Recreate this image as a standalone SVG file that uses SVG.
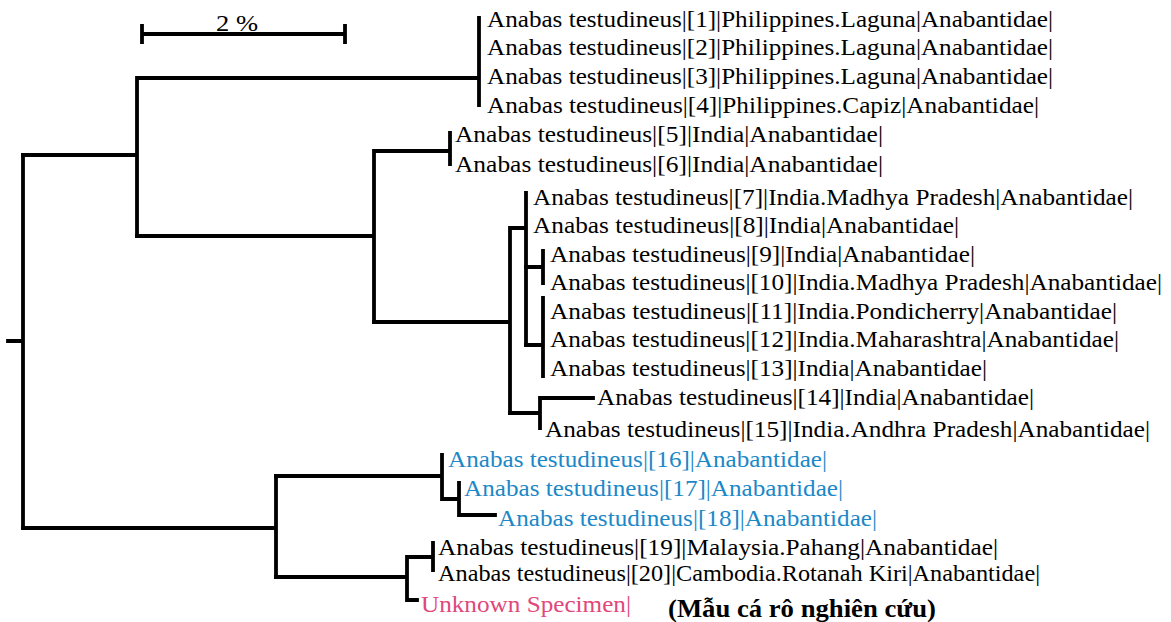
<svg xmlns="http://www.w3.org/2000/svg" width="1171" height="622" viewBox="0 0 1171 622">
<style>
.br{fill:none;stroke:#000;stroke-width:3.8;stroke-linecap:square}
.lb{font-family:"Liberation Serif","Times New Roman",serif;font-size:23.5px;fill:#000}
.bl{fill:#1c88c7}
.pk{fill:#e0477b}
.cap{font-family:"Liberation Serif","Times New Roman",serif;font-size:25px;font-weight:bold;fill:#000}
</style>
<rect width="1171" height="622" fill="#fff"/>
<g id="scale">
<path class="br" d="M142,34 H345 M142,26 V42 M345,26 V42"/>
<text class="lb" x="216" y="31" textLength="42" lengthAdjust="spacingAndGlyphs">2 %</text>
</g>
<g id="connectors">
<path class="br" d="M8,341 H23 M23,155 V528"/>
<path class="br" d="M23,155 H137 M137,78 V236 M137,78 H479 M479,18 V105"/>
<path class="br" d="M137,236 H374 M374,151 V322 M374,151 H450 M450,133 V164"/>
<path class="br" d="M374,322 H510 M510,228 V413 M510,228 H526 M526,193 V345"/>
<path class="br" d="M526,267 H543 M543,251 V283"/>
<path class="br" d="M526,345 H543 M543,298 V376"/>
<path class="br" d="M510,413 H540 M540,398 V428 M540,398 H593"/>
<path class="br" d="M23,528 H276 M276,476 V577"/>
<path class="br" d="M276,476 H442 M442,455 V499 M442,499 H459 M459,483 V515 M459,515 H495"/>
<path class="br" d="M276,577 H407 M407,557 V600 M407,557 H433 M433,543 V570 M407,600 H417"/>
</g>
<g id="n1"><text class="lb" x="487" y="27" textLength="566" lengthAdjust="spacingAndGlyphs">Anabas testudineus|[1]|Philippines.Laguna|Anabantidae|</text></g>
<g id="n2"><text class="lb" x="487" y="55" textLength="566" lengthAdjust="spacingAndGlyphs">Anabas testudineus|[2]|Philippines.Laguna|Anabantidae|</text></g>
<g id="n3"><text class="lb" x="487" y="84" textLength="566" lengthAdjust="spacingAndGlyphs">Anabas testudineus|[3]|Philippines.Laguna|Anabantidae|</text></g>
<g id="n4"><text class="lb" x="487" y="113" textLength="552" lengthAdjust="spacingAndGlyphs">Anabas testudineus|[4]|Philippines.Capiz|Anabantidae|</text></g>
<g id="n5"><text class="lb" x="455" y="142" textLength="428" lengthAdjust="spacingAndGlyphs">Anabas testudineus|[5]|India|Anabantidae|</text></g>
<g id="n6"><text class="lb" x="455" y="172" textLength="428" lengthAdjust="spacingAndGlyphs">Anabas testudineus|[6]|India|Anabantidae|</text></g>
<g id="n7"><text class="lb" x="533" y="205" textLength="600" lengthAdjust="spacingAndGlyphs">Anabas testudineus|[7]|India.Madhya Pradesh|Anabantidae|</text></g>
<g id="n8"><text class="lb" x="533" y="233" textLength="426" lengthAdjust="spacingAndGlyphs">Anabas testudineus|[8]|India|Anabantidae|</text></g>
<g id="n9"><text class="lb" x="550" y="262" textLength="425" lengthAdjust="spacingAndGlyphs">Anabas testudineus|[9]|India|Anabantidae|</text></g>
<g id="n10"><text class="lb" x="550" y="290" textLength="612" lengthAdjust="spacingAndGlyphs">Anabas testudineus|[10]|India.Madhya Pradesh|Anabantidae|</text></g>
<g id="n11"><text class="lb" x="550" y="319" textLength="567" lengthAdjust="spacingAndGlyphs">Anabas testudineus|[11]|India.Pondicherry|Anabantidae|</text></g>
<g id="n12"><text class="lb" x="550" y="347" textLength="569" lengthAdjust="spacingAndGlyphs">Anabas testudineus|[12]|India.Maharashtra|Anabantidae|</text></g>
<g id="n13"><text class="lb" x="550" y="376" textLength="437" lengthAdjust="spacingAndGlyphs">Anabas testudineus|[13]|India|Anabantidae|</text></g>
<g id="n14"><text class="lb" x="597" y="405" textLength="437" lengthAdjust="spacingAndGlyphs">Anabas testudineus|[14]|India|Anabantidae|</text></g>
<g id="n15"><text class="lb" x="545" y="437" textLength="605" lengthAdjust="spacingAndGlyphs">Anabas testudineus|[15]|India.Andhra Pradesh|Anabantidae|</text></g>
<g id="n16"><text class="lb bl" x="448" y="467" textLength="379" lengthAdjust="spacingAndGlyphs">Anabas testudineus|[16]|Anabantidae|</text></g>
<g id="n17"><text class="lb bl" x="464" y="496" textLength="379" lengthAdjust="spacingAndGlyphs">Anabas testudineus|[17]|Anabantidae|</text></g>
<g id="n18"><text class="lb bl" x="498" y="526" textLength="379" lengthAdjust="spacingAndGlyphs">Anabas testudineus|[18]|Anabantidae|</text></g>
<g id="n19"><text class="lb" x="438" y="555" textLength="560" lengthAdjust="spacingAndGlyphs">Anabas testudineus|[19]|Malaysia.Pahang|Anabantidae|</text></g>
<g id="n20"><text class="lb" x="438" y="581" textLength="602" lengthAdjust="spacingAndGlyphs">Anabas testudineus|[20]|Cambodia.Rotanah Kiri|Anabantidae|</text></g>
<g id="unknown"><text class="lb pk" x="421" y="612" textLength="210" lengthAdjust="spacingAndGlyphs">Unknown Specimen|</text></g>
<g id="caption"><text class="cap" x="668" y="617" textLength="268" lengthAdjust="spacingAndGlyphs">(Mẫu cá rô nghiên cứu)</text></g>
</svg>
